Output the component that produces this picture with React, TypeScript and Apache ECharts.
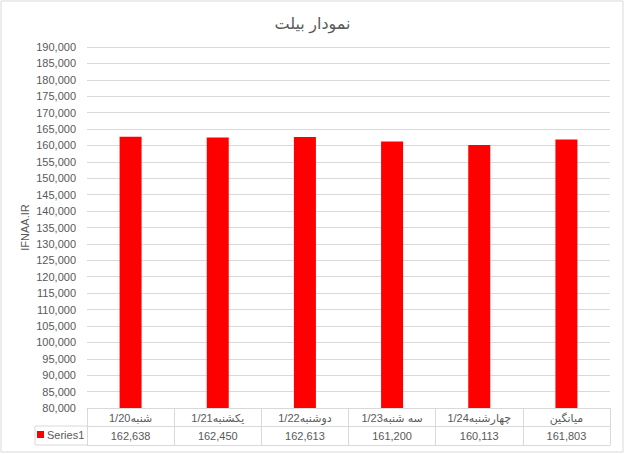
import React, { useEffect, useRef } from "react";
import * as echarts from "echarts";

const categories = ["شنبه1/20", "یکشنبه1/21", "دوشنبه1/22", "سه شنبه1/23", "چهارشنبه1/24", "میانگین"];
const seriesValues = [162638, 162450, 162613, 161200, 160113, 161803];
const seriesName = "Series1";
const titleText = "نمودار بیلت";
const yAxisName = "IFNAA.IR";
const yMin = 80000;
const yMax = 190000;
const yInterval = 5000;

const FONT = "'Liberation Sans', 'DejaVu Sans', sans-serif";
const GRAY = "#595959";
const LINE = "#d9d9d9";

const fmt = (v: number) => v.toLocaleString("en-US");

export default function App() {
  const ref = useRef<HTMLDivElement>(null);
  useEffect(() => {
    document.body.style.margin = "0";
    if (!ref.current) return;
    const chart = echarts.init(ref.current, undefined, { renderer: "svg" });
    const L = 87, R = 610, T = 47, B = 408;
    chart.setOption({
      animation: false,
      backgroundColor: "#ffffff",
      textStyle: { fontFamily: FONT },
      title: {
        text: titleText,
        left: "center",
        top: 10,
        textStyle: { fontFamily: FONT, fontSize: 16, fontWeight: "normal", color: GRAY },
      },
      legend: {
        show: true,
        left: 37,
        top: 429,
        itemWidth: 7,
        itemHeight: 7,
        itemGap: 4,
        icon: "rect",
        data: [seriesName],
        textStyle: { fontFamily: FONT, fontSize: 11, color: GRAY, padding: [0, 0, 0, -2] },
        padding: 0,
      },
      grid: { left: L, right: 625 - R, top: T, bottom: 454 - B, containLabel: false },
      xAxis: [
        {
          type: "category",
          data: categories,
          position: "bottom",
          axisLine: { show: true, lineStyle: { color: LINE, width: 1 } },
          axisTick: { show: true, length: 37, lineStyle: { color: LINE } },
          axisLabel: { fontFamily: FONT, fontSize: 11, color: GRAY, margin: 4, interval: 0 },
        },
        {
          type: "category",
          data: seriesValues.map(fmt),
          position: "bottom",
          offset: 18,
          axisLine: { show: true, lineStyle: { color: LINE, width: 1 } },
          axisTick: { show: false },
          axisLabel: { fontFamily: FONT, fontSize: 11, color: GRAY, margin: 4, interval: 0 },
        },
        {
          type: "category",
          data: categories.map(() => ""),
          position: "bottom",
          offset: 37,
          axisLine: { show: true, lineStyle: { color: LINE, width: 1 } },
          axisTick: { show: false },
          axisLabel: { show: false },
        },
      ],
      yAxis: {
        type: "value",
        min: yMin,
        max: yMax,
        interval: yInterval,
        name: yAxisName,
        nameLocation: "middle",
        nameGap: 57,
        nameMoveOverlap: false,
        nameRotate: 90,
        nameTextStyle: { fontFamily: FONT, fontSize: 11, color: GRAY },
        axisLine: { show: false },
        axisTick: { show: false },
        axisLabel: { fontFamily: FONT, fontSize: 11, color: GRAY, margin: 11, formatter: (v: number) => fmt(v) },
        splitLine: { show: true, lineStyle: { color: LINE, width: 1 } },
      },
      series: [
        {
          name: seriesName,
          type: "bar",
          data: seriesValues,
          barWidth: 22,
          itemStyle: { color: "#ff0000" },
          xAxisIndex: 0,
        },
      ],
      graphic: [
        {
          type: "rect",
          shape: { x: 1, y: 1, width: 622, height: 451 },
          style: { fill: "none", stroke: LINE, lineWidth: 1 },
          silent: true,
        },
        { type: "line", shape: { x1: 35, y1: 426, x2: L, y2: 426 }, style: { stroke: LINE, lineWidth: 1 } },
        { type: "line", shape: { x1: 35, y1: 445, x2: L, y2: 445 }, style: { stroke: LINE, lineWidth: 1 } },
        { type: "line", shape: { x1: 35, y1: 426, x2: 35, y2: 445 }, style: { stroke: LINE, lineWidth: 1 } },
      ],
    });
    return () => chart.dispose();
  }, []);
  return <div ref={ref} style={{ width: 625, height: 454 }} />;
}
